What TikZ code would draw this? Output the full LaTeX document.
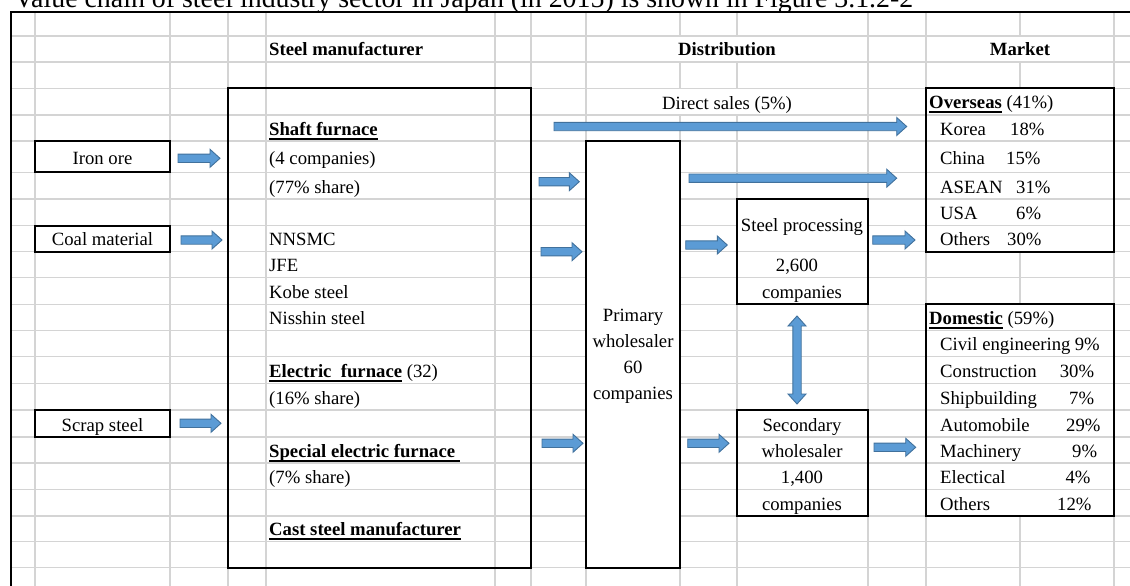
\documentclass[tikz,border=0pt]{standalone}
\usepackage{fontspec}
\setmainfont{Liberation Serif}
\usetikzlibrary{calc,fit}

\definecolor{gridgray}{RGB}{212,212,212}
\definecolor{arrowfill}{RGB}{91,155,213}
\definecolor{arrowline}{RGB}{65,113,156}

\newcommand\fs{\fontsize{18.7}{22}\selectfont}
% bold text with a spreadsheet-style underline
\newcommand\ulbf[1]{\setbox0\hbox{\bfseries #1}\rlap{\rule[-4.5pt]{\wd0}{1.9pt}}\box0\relax}

% horizontal block arrow from coordinate #1 (tail) to coordinate #2 (tip)
\newcommand\hblock[2]{%
  \path[barrow] let \p1=(#1), \p2=(#2) in
    (\x1,\y1+4.2pt) -- (\x2-10pt,\y1+4.2pt) -- (\x2-10pt,\y1+9pt) -- (\x2,\y1)
    -- (\x2-10pt,\y1-9pt) -- (\x2-10pt,\y1-4.2pt) -- (\x1,\y1-4.2pt) -- cycle;}
% vertical two-headed block arrow from coordinate #1 (top) to #2 (bottom)
\newcommand\vdblock[2]{%
  \path[barrow] let \p1=(#1), \p2=(#2) in
    (\x1,\y1) -- (\x1+9pt,\y1-10pt) -- (\x1+4.2pt,\y1-10pt) -- (\x1+4.2pt,\y2+10pt)
    -- (\x1+9pt,\y2+10pt) -- (\x1,\y2) -- (\x1-9pt,\y2+10pt) -- (\x1-4.2pt,\y2+10pt)
    -- (\x1-4.2pt,\y1-10pt) -- (\x1-9pt,\y1-10pt) -- cycle;}

\begin{document}
\begin{tikzpicture}[x=1pt,y=-1pt,
  txt/.style={inner sep=0pt, anchor=base west, font=\fs},
  ctxt/.style={inner sep=0pt, anchor=base, font=\fs},
  rtxt/.style={inner sep=0pt, anchor=base east, font=\fs},
  gridline/.style={draw=gridgray, line width=1.3pt},
  box/.style={draw=black, line width=2pt, fill=white, inner sep=0pt},
  barrow/.style={fill=arrowfill, draw=arrowline, line width=0.9pt, line join=miter}]

\useasboundingbox (0,0) rectangle (1130,586);
\clip (0,0) rectangle (1130,586);
\fill[white] (0,0) rectangle (1130,586);

% caption line above the sheet
\node[inner sep=0pt, anchor=base west] (caption) at (14,8)
  {\resizebox{899pt}{!}{\fontsize{24}{28}\selectfont Value chain of steel industry sector in Japan (in 2015) is shown in Figure 3.1.2-2}};

% sheet grid
\foreach \x in {35,170,228,266,495,531,586,868,926,1114}
  \draw[gridline] (\x,12) -- (\x,586);
\foreach \x in {680,737} {
  \draw[gridline] (\x,12) -- (\x,36);
  \draw[gridline] (\x,62) -- (\x,88.3);
  \draw[gridline] (\x,115) -- (\x,586);
}
\draw[gridline] (1020,12) -- (1020,36);
\draw[gridline] (1020,62) -- (1020,88.3);
\draw[gridline] (1020,251.7) -- (1020,304.3);
\draw[gridline] (1020,516) -- (1020,586);
\foreach \y in {36,62,88.3,115,141,172.3,199,225.7,251.7,277.7,304.3,330.7,356.7,
                383.3,410,437,463,489.3,516,541.7,567.7}
  \draw[gridline] (11,\y) -- (1130,\y);

% sheet frame
\draw[line width=2.4pt] (11,586) -- (11,12) -- (1130,12);

% raw materials
\node[box, fit={(35,141) (170,172.3)}] (iron) {};
\node[box, fit={(35,225.7) (170,251.7)}] (coal) {};
\node[box, fit={(35,410) (170,437)}] (scrap) {};
\node[ctxt] (ironlbl) at (102.5,164) {Iron ore};
\node[ctxt] (coallbl) at (102.5,245.7) {Coal material};
\node[ctxt] (scraplbl) at (102.5,431) {Scrap steel};

% steel manufacturer
\node[box, fill=none, fit={(228,88.3) (531,567.7)}] (mfr) {};

% distribution
\node[box, fit={(586,141) (680,567.7)}] (prim) {};
\fill[white] (738,200) rectangle (867,251);
\node[box, fill=none, fit={(737,199) (868,304.3)}] (proc) {};
\node[box, fill=none, fit={(737,410) (868,516)}] (sec) {};

% market
\node[box, fill=none, fit={(926,88.3) (1114,251.7)}] (over) {};
\node[box, fill=none, fit={(926,304.3) (1114,516)}] (dom) {};

% column headings
\node[txt, font=\fs\bfseries] (hmfr) at (269,56) {Steel manufacturer};
\node[ctxt, font=\fs\bfseries] (hdist) at (727,56) {Distribution};
\node[ctxt, font=\fs\bfseries] (hmkt) at (1020,56) {Market};
\node[ctxt] (direct) at (727,109) {Direct sales (5\%)};

% manufacturer list
\node[txt] (m1) at (269,135) {\ulbf{Shaft furnace}};
\node[txt] (m2) at (269,164) {(4 companies)};
\node[txt] (m3) at (269,193) {(77\% share)};
\node[txt] (m4) at (269,245.7) {NNSMC};
\node[txt] (m5) at (269,271.7) {JFE};
\node[txt] (m6) at (269,298.3) {Kobe steel};
\node[txt] (m7) at (269,324.7) {Nisshin steel};
\node[txt] (m8) at (269,377.3) {\ulbf{Electric\ \ furnace} (32)};
\node[txt] (m9) at (269,404) {(16\% share)};
\node[txt] (m10) at (269,457) {\ulbf{Special electric furnace\ }};
\node[txt] (m11) at (269,483.3) {(7\% share)};
\node[txt] (m12) at (269,535.7) {\ulbf{Cast steel manufacturer}};

% primary wholesaler
\node[ctxt] (p1) at (633,321.7) {Primary};
\node[ctxt] (p2) at (633,347.7) {wholesaler};
\node[ctxt] (p3) at (633,373.7) {60};
\node[ctxt] (p4) at (633,399.7) {companies};

% steel processing and secondary wholesaler
\node[ctxt] (s0) at (802,231.7) {Steel processing};
\node[ctxt] (s1) at (797,271.7) {2,600};
\node[ctxt] (s2) at (802,298.3) {companies};
\node[ctxt] (w1) at (802,431) {Secondary};
\node[ctxt] (w2) at (802,457) {wholesaler};
\node[ctxt] (w3) at (802,483.3) {1,400};
\node[ctxt] (w4) at (802,510) {companies};

% overseas market
\node[txt] (o0) at (929,108.7) {\ulbf{Overseas} (41\%)};
\node[txt] (o1) at (940,135) {Korea};   \node[txt] (o1p) at (1010,135) {18\%};
\node[txt] (o2) at (940,164) {China};   \node[txt] (o2p) at (1006,164) {15\%};
\node[txt] (o3) at (940,193) {ASEAN};   \node[txt] (o3p) at (1016,193) {31\%};
\node[txt] (o4) at (940,219.7) {USA};   \node[txt] (o4p) at (1016,219.7) {6\%};
\node[txt] (o5) at (940,245.7) {Others}; \node[txt] (o5p) at (1007,245.7) {30\%};

% domestic market
\node[txt] (d0) at (929,324.7) {\ulbf{Domestic} (59\%)};
\node[txt] (d1) at (940,350.7) {Civil engineering}; \node[rtxt] (d1p) at (1100,350.7) {9\%};
\node[txt] (d2) at (940,377.3) {Construction};      \node[rtxt] (d2p) at (1094.3,377.3) {30\%};
\node[txt] (d3) at (940,404) {Shipbuilding};        \node[rtxt] (d3p) at (1094.3,404) {7\%};
\node[txt] (d4) at (940,431) {Automobile};          \node[rtxt] (d4p) at (1100.7,431) {29\%};
\node[txt] (d5) at (940,457) {Machinery};           \node[rtxt] (d5p) at (1097.3,457) {9\%};
\node[txt] (d6) at (940,483.3) {Electical};         \node[rtxt] (d6p) at (1090.7,483.3) {4\%};
\node[txt] (d7) at (940,510) {Others};              \node[rtxt] (d7p) at (1091.7,510) {12\%};

% arrow end points
\coordinate (a1t) at (178,158.3);   \coordinate (a1h) at (220,158.3);
\coordinate (a2t) at (181,240);     \coordinate (a2h) at (222,240);
\coordinate (a3t) at (180,423.3);   \coordinate (a3h) at (221,423.3);
\coordinate (a4t) at (554,126.5);   \coordinate (a4h) at (906.7,126.5);
\coordinate (a5t) at (689,178.2);   \coordinate (a5h) at (896.7,178.2);
\coordinate (a6t) at (539,181.7);   \coordinate (a6h) at (579.3,181.7);
\coordinate (a7t) at (541,251.7);   \coordinate (a7h) at (582,251.7);
\coordinate (a8t) at (685.7,245);   \coordinate (a8h) at (727.3,245);
\coordinate (a9t) at (542,443.3);   \coordinate (a9h) at (583,443.3);
\coordinate (a10t) at (687.7,443.3); \coordinate (a10h) at (729,443.3);
\coordinate (a11t) at (872.7,240);  \coordinate (a11h) at (915,240);
\coordinate (a12t) at (874,447.3);  \coordinate (a12h) at (915.7,447.3);
\coordinate (a13t) at (797,316);    \coordinate (a13b) at (797,404);

% block arrows
\hblock{a1t}{a1h}
\hblock{a2t}{a2h}
\hblock{a3t}{a3h}
\hblock{a4t}{a4h}
\hblock{a5t}{a5h}
\hblock{a6t}{a6h}
\hblock{a7t}{a7h}
\hblock{a8t}{a8h}
\hblock{a9t}{a9h}
\hblock{a10t}{a10h}
\hblock{a11t}{a11h}
\hblock{a12t}{a12h}
\vdblock{a13t}{a13b}

\end{tikzpicture}
\end{document}
